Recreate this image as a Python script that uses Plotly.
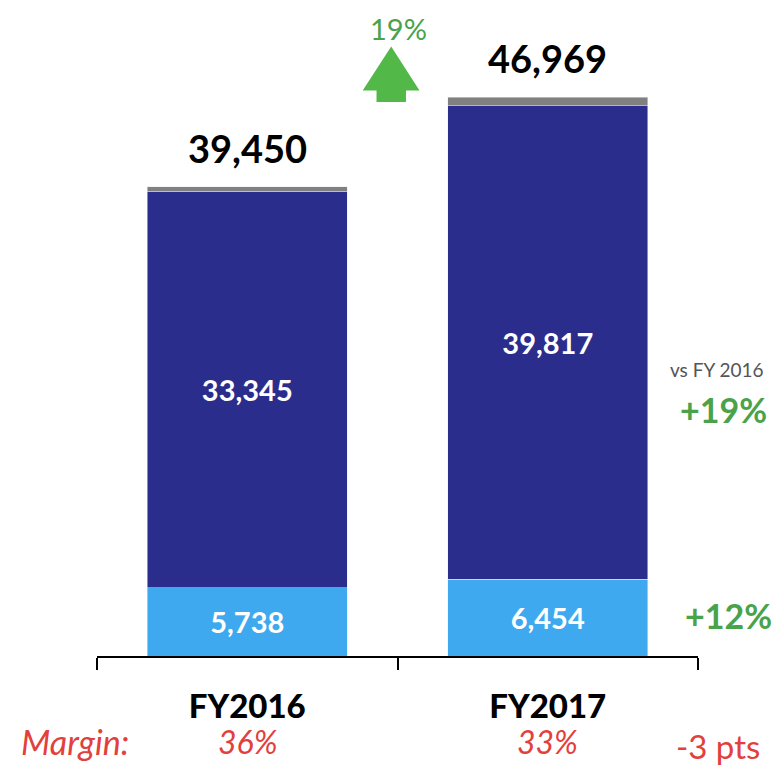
import plotly.graph_objects as go

categories = ["FY2016", "FY2017"]
light_vals = [5738, 6454]
dark_vals = [33345, 39817]
totals = [39450, 46969]
gray_vals = [t - d - l for t, d, l in zip(totals, dark_vals, light_vals)]
margins = ["36%", "33%"]
growth_total = "19%"
growth_dark = "+19%"
growth_light = "+12%"
margin_delta = "-3 pts"

FONT = "Lato"
GREEN = "#4aa24a"
ARROW_GREEN = "#52b848"
RED = "#e2403c"

fig = go.Figure()
fig.add_trace(go.Bar(x=categories, y=light_vals, marker_color="#3fa9ef",
                     text=[f"<b>{v:,}</b>" for v in light_vals], textposition="inside",
                     insidetextanchor="middle",
                     textfont=dict(color="white", size=29, family=FONT)))
fig.add_trace(go.Bar(x=categories, y=dark_vals, marker_color="#2b2d8c",
                     text=[f"<b>{v:,}</b>" for v in dark_vals], textposition="inside",
                     insidetextanchor="middle",
                     textfont=dict(color="white", size=29, family=FONT)))
fig.add_trace(go.Bar(x=categories, y=gray_vals, marker_color="#808080",
                     textposition="none"))

for c, t in zip(categories, totals):
    fig.add_annotation(x=c, y=t, text=f"<b>{t:,}</b>", showarrow=False,
                       xanchor="center", yanchor="bottom", yshift=14,
                       font=dict(size=38, color="black", family=FONT))

def note(x, y, text, size, color):
    fig.add_annotation(x=x, xref="paper", y=y, yref="paper", text=text, showarrow=False,
                       xanchor="center", yanchor="middle",
                       font=dict(size=size, color=color, family=FONT))

for c, m in zip(categories, margins):
    fig.add_annotation(x=c, y=-0.1316, yref="paper", text=f"<i>{m}</i>", showarrow=False,
                       xanchor="center", yanchor="middle",
                       font=dict(size=32, color=RED, family=FONT))

note(-0.0366, -0.1316, "<i>Margin:</i>", 34, RED)
note(1.033, -0.139, margin_delta, 33, RED)
note(1.032, 0.444, "vs FY 2016", 19, "#555")
note(1.043, 0.382, f"<b>{growth_dark}</b>", 34, GREEN)
note(1.05, 0.062, f"<b>{growth_light}</b>", 34, GREEN)
note(0.502, 0.971, growth_total, 29, GREEN)

# up arrow between bars
fig.add_shape(type="path", xref="paper", yref="paper",
              path="M 0.4895 0.9435 L 0.5366 0.8755 L 0.5141 0.8755 L 0.5141 0.8576 "
                   "L 0.4651 0.8576 L 0.4651 0.8755 L 0.4421 0.8755 Z",
              fillcolor=ARROW_GREEN, line=dict(width=0))

fig.update_layout(
    barmode="stack", bargap=1/3, showlegend=False,
    width=784, height=772,
    margin=dict(l=89, r=94, t=2, b=124),
    plot_bgcolor="white", paper_bgcolor="white",
    xaxis=dict(range=[-0.5, 1.5], showline=True, linecolor="black", linewidth=2,
               ticks="outside", tickson="boundaries", ticklen=12, tickcolor="black",
               tickwidth=2, tickfont=dict(size=33, color="black", family=FONT + " Black"),
               ticklabelstandoff=20),
    yaxis=dict(range=[0, 54300], visible=False),
)
fig.write_html("out.html")
